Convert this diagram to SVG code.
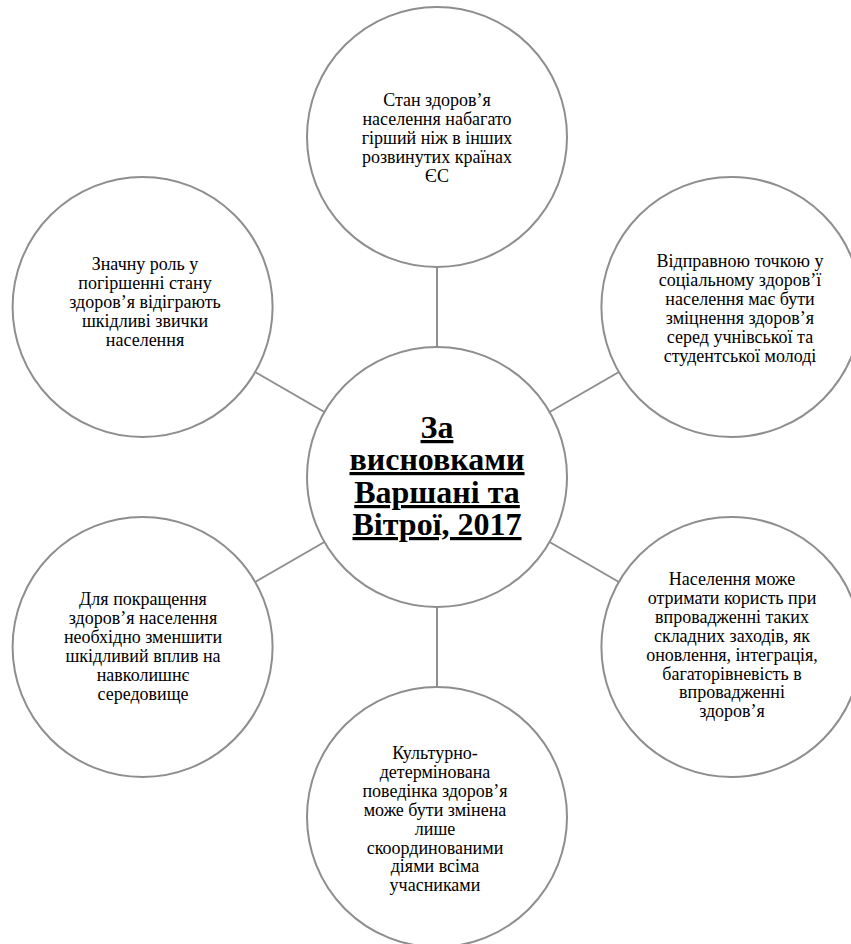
<svg xmlns="http://www.w3.org/2000/svg" width="851" height="944" viewBox="0 0 851 944">
<style>
.c{fill:#fff;stroke:#8e8e8e;stroke-width:2}
.l{stroke:#8e8e8e;stroke-width:2}
.t{font-size:18px;fill:#000;text-anchor:middle}
.h{font-size:32px;font-weight:bold;fill:#000;text-anchor:middle;text-decoration:underline}
</style>
<rect width="851" height="944" fill="#fff"/>
<g id="connectors">
<line class="l" x1="437" y1="347" x2="437" y2="267"/>
<line class="l" x1="549.6" y1="412" x2="618.9" y2="372"/>
<line class="l" x1="549.6" y1="542" x2="618.9" y2="582"/>
<line class="l" x1="437" y1="607" x2="437" y2="687"/>
<line class="l" x1="324.4" y1="542" x2="255.1" y2="582"/>
<line class="l" x1="324.4" y1="412" x2="255.1" y2="372"/>
</g>
<g font-family="Liberation Serif, Times New Roman, serif">
<g id="center">
<circle class="c" cx="437" cy="477" r="130"/>
<text class="h" x="437" y="438">За</text>
<text class="h" x="437" y="470">висновками</text>
<text class="h" x="437" y="503">Варшані та</text>
<text class="h" x="437" y="535">Вітрої, 2017</text>
</g>
<g id="n-top">
<circle class="c" cx="437" cy="137" r="130"/>
<text class="t" x="437" y="106">Стан здоров’я</text>
<text class="t" x="437" y="124.9">населення набагато</text>
<text class="t" x="437" y="143.8">гірший ніж в інших</text>
<text class="t" x="437" y="162.7">розвинутих країнах</text>
<text class="t" x="437" y="181.6">ЄС</text>
</g>
<g id="n-top-right">
<circle class="c" cx="731.4" cy="307" r="130"/>
<text class="t" x="740" y="267">Відправною точкою у</text>
<text class="t" x="740" y="285.9">соціальному здоров’ї</text>
<text class="t" x="740" y="304.8">населення має бути</text>
<text class="t" x="740" y="323.7">зміцнення здоров’я</text>
<text class="t" x="740" y="342.6">серед учнівської та</text>
<text class="t" x="740" y="361.5">студентської молоді</text>
</g>
<g id="n-bottom-right">
<circle class="c" cx="731.4" cy="647" r="130"/>
<text class="t" x="732" y="585">Населення може</text>
<text class="t" x="732" y="603.9">отримати користь при</text>
<text class="t" x="732" y="622.8">впровадженні таких</text>
<text class="t" x="732" y="641.7">складних заходів, як</text>
<text class="t" x="732" y="660.6">оновлення, інтеграція,</text>
<text class="t" x="732" y="679.5">багаторівневість в</text>
<text class="t" x="732" y="698.4">впровадженні</text>
<text class="t" x="732" y="717.3">здоров’я</text>
</g>
<g id="n-bottom">
<circle class="c" cx="437" cy="817" r="130"/>
<text class="t" x="435" y="759">Культурно-</text>
<text class="t" x="435" y="777.9">детермінована</text>
<text class="t" x="435" y="796.8">поведінка здоров’я</text>
<text class="t" x="435" y="815.7">може бути змінена</text>
<text class="t" x="435" y="834.6">лише</text>
<text class="t" x="435" y="853.5">скоординованими</text>
<text class="t" x="435" y="872.4">діями всіма</text>
<text class="t" x="435" y="891.3">учасниками</text>
</g>
<g id="n-bottom-left">
<circle class="c" cx="142.6" cy="647" r="130"/>
<text class="t" x="143" y="605">Для покращення</text>
<text class="t" x="143" y="623.9">здоров’я населення</text>
<text class="t" x="143" y="642.8">необхідно зменшити</text>
<text class="t" x="143" y="661.7">шкідливий вплив на</text>
<text class="t" x="143" y="680.6">навколишнє</text>
<text class="t" x="143" y="699.5">середовище</text>
</g>
<g id="n-top-left">
<circle class="c" cx="142.6" cy="307" r="130"/>
<text class="t" x="145" y="270">Значну роль у</text>
<text class="t" x="145" y="288.9">погіршенні стану</text>
<text class="t" x="145" y="307.8">здоров’я відіграють</text>
<text class="t" x="145" y="326.7">шкідливі звички</text>
<text class="t" x="145" y="345.6">населення</text>
</g>
</g>
</svg>
